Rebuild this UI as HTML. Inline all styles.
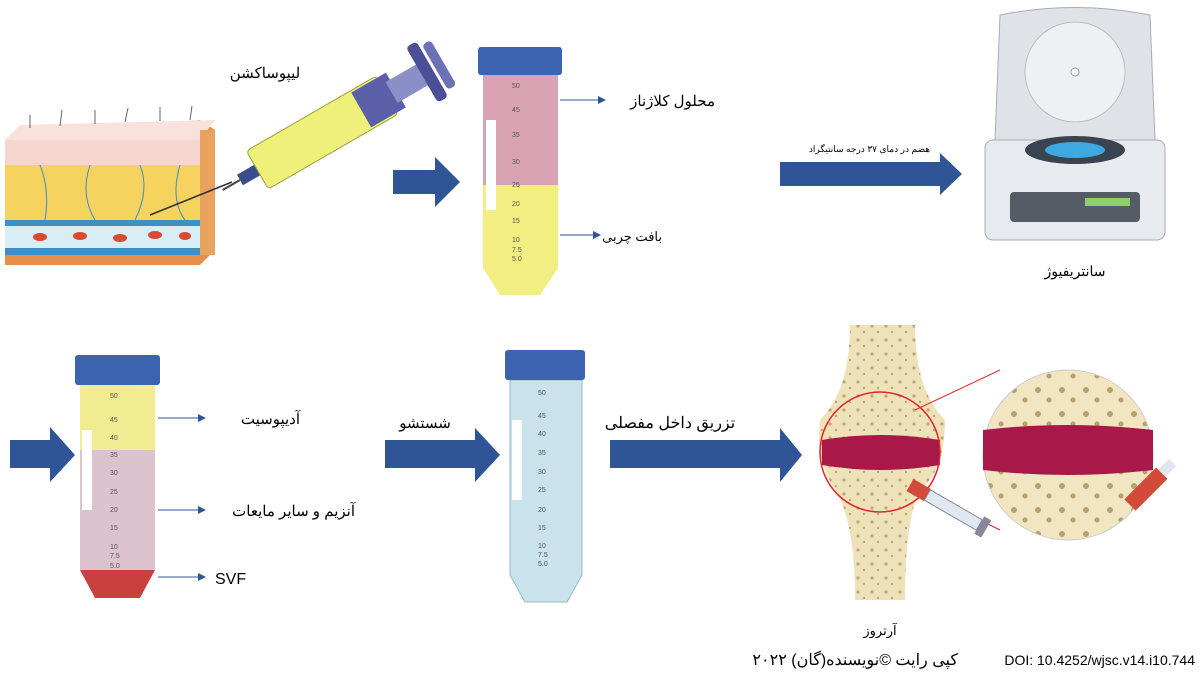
<!DOCTYPE html>
<html><head><meta charset="utf-8"><style>
body{margin:0;background:#fff;}
svg text{font-family:"Liberation Sans","Noto Sans CJK SC",sans-serif;}
</style></head><body>
<svg width="1200" height="672" viewBox="0 0 1200 672" xmlns="http://www.w3.org/2000/svg">
<defs>
<pattern id="bone" width="14" height="14" patternUnits="userSpaceOnUse">
<rect width="14" height="14" fill="#efe2b8"/><circle cx="4" cy="4" r="1.6" fill="#b9a77a"/><circle cx="10" cy="10" r="1.2" fill="#b9a77a"/></pattern>
<pattern id="bone2" width="24" height="24" patternUnits="userSpaceOnUse">
<rect width="24" height="24" fill="#f2e6c2"/><circle cx="6" cy="6" r="3" fill="#b79f6e"/><circle cx="17" cy="16" r="2.5" fill="#b79f6e"/></pattern>
<marker id="ah" markerWidth="8" markerHeight="8" refX="7" refY="4" orient="auto"><path d="M0,0 L8,4 L0,8Z" fill="#2f5597"/></marker>
</defs>
<!-- skin block -->
<polygon points="5,140 200,120 215,130 215,250 200,265 5,265" fill="#e58f4a"/>
<rect x="5" y="140" width="195" height="25" fill="#f6d5cf"/>
<polygon points="5,140 20,125 215,120 200,140" fill="#f9e2dc"/>
<rect x="5" y="165" width="195" height="55" fill="#f6d25e"/>
<rect x="5" y="220" width="195" height="35" fill="#3d8fc9"/>
<rect x="5" y="226" width="195" height="22" fill="#d8eef6"/>
<g stroke="#3d8fc9" fill="none" stroke-width="1"><path d="M40 165 Q50 190 45 220"/><path d="M90 165 Q80 195 95 220"/><path d="M140 165 Q150 190 135 220"/><path d="M180 165 Q170 200 185 220"/></g>
<g stroke="#666" stroke-width="1"><line x1="30" y1="128" x2="30" y2="115"/><line x1="60" y1="126" x2="62" y2="110"/><line x1="95" y1="124" x2="95" y2="110"/><line x1="125" y1="122" x2="128" y2="108"/><line x1="160" y1="121" x2="160" y2="107"/><line x1="190" y1="120" x2="192" y2="106"/></g>
<g fill="#d84a32"><ellipse cx="40" cy="237" rx="7" ry="4"/><ellipse cx="80" cy="236" rx="7" ry="4"/><ellipse cx="120" cy="238" rx="7" ry="4"/><ellipse cx="155" cy="235" rx="7" ry="4"/><ellipse cx="185" cy="236" rx="6" ry="4"/></g>
<rect x="200" y="130" width="15" height="125" fill="#e9a35f"/>
<line x1="150" y1="215" x2="232" y2="182" stroke="#333" stroke-width="1.5"/>
<!-- syringe -->
<g transform="translate(240,180) rotate(-30)">
<line x1="-20" y1="0" x2="0" y2="0" stroke="#444" stroke-width="2"/>
<rect x="0" y="-6" width="20" height="12" fill="#3a4e8c"/>
<rect x="20" y="-22" width="150" height="44" rx="4" fill="#eef07a" stroke="#9aa040"/>
<rect x="140" y="-20" width="40" height="40" fill="#5b5fa8"/>
<rect x="175" y="-12" width="40" height="24" fill="#8b8fc8"/>
<rect x="210" y="-32" width="12" height="64" rx="4" fill="#4b4f98"/>
<rect x="225" y="-26" width="10" height="52" rx="4" fill="#6d71b8"/>
</g>
<text x="265" y="78" font-size="15" text-anchor="middle">لیپوساکشن</text>
<!-- tube 1 -->
<rect x="483" y="75" width="75" height="110" fill="#d9a3b3"/>
<path d="M483 185 H558 V268 L540 295 H500 L483 268Z" fill="#f2ee82"/>
<rect x="478" y="47" width="84" height="28" rx="3" fill="#3b63b0"/>
<rect x="486" y="120" width="10" height="90" fill="#fff"/>
<g font-size="7" fill="#555"><text x="512" y="88">50</text><text x="512" y="112">45</text><text x="512" y="137">35</text><text x="512" y="164">30</text><text x="512" y="187">25</text><text x="512" y="206">20</text><text x="512" y="223">15</text><text x="512" y="242">10</text><text x="512" y="252">7.5</text><text x="512" y="261">5.0</text></g>
<line x1="560" y1="100" x2="605" y2="100" stroke="#2f5597" marker-end="url(#ah)"/><text x="715" y="106" font-size="15" text-anchor="end">محلول کلاژناز</text>
<line x1="560" y1="235" x2="600" y2="235" stroke="#2f5597" marker-end="url(#ah)"/><text x="662" y="241" font-size="13" text-anchor="end">بافت چربی</text>
<!-- arrows -->
<g fill="#2f5597">
<polygon points="393,170 435,170 435,157 460,182 435,207 435,194 393,194"/>
<polygon points="780,162 940,162 940,153 962,174 940,195 940,186 780,186"/>
<polygon points="10,440 50,440 50,427 75,455 50,482 50,468 10,468"/>
<polygon points="385,440 475,440 475,428 500,455 475,482 475,468 385,468"/>
<polygon points="610,440 780,440 780,428 802,455 780,482 780,468 610,468"/>
</g>
<text x="930" y="152" font-size="9" text-anchor="end">هضم در دمای ۳۷ درجه سانتیگراد</text>
<!-- centrifuge -->
<path d="M1000 15 Q1075 0 1150 15 L1155 140 H995Z" fill="#dfe3e8" stroke="#aab"/>
<circle cx="1075" cy="72" r="50" fill="#eef1f4" stroke="#b8bec6"/>
<circle cx="1075" cy="72" r="4" fill="#fff" stroke="#999"/>
<rect x="985" y="140" width="180" height="100" rx="8" fill="#e7eaee" stroke="#aab"/>
<ellipse cx="1075" cy="150" rx="50" ry="14" fill="#3a4450"/>
<ellipse cx="1075" cy="150" rx="30" ry="8" fill="#3ea9e0"/>
<rect x="1010" y="192" width="130" height="30" rx="4" fill="#555c66"/>
<rect x="1085" y="198" width="45" height="8" fill="#8fd06a"/>
<text x="1075" y="276" font-size="14" text-anchor="middle">سانتریفیوژ</text>
<!-- tube 2 -->
<rect x="80" y="385" width="75" height="65" fill="#f1ec91"/>
<rect x="80" y="450" width="75" height="120" fill="#dcc3cd"/>
<path d="M80 570 H155 L140 598 H95Z" fill="#c9403f"/>
<rect x="75" y="355" width="85" height="30" rx="3" fill="#3b63b0"/>
<rect x="82" y="430" width="10" height="80" fill="#fff"/>
<g font-size="7" fill="#555"><text x="110" y="398">50</text><text x="110" y="422">45</text><text x="110" y="440">40</text><text x="110" y="457">35</text><text x="110" y="475">30</text><text x="110" y="494">25</text><text x="110" y="512">20</text><text x="110" y="530">15</text><text x="110" y="549">10</text><text x="110" y="558">7.5</text><text x="110" y="568">5.0</text></g>
<line x1="158" y1="418" x2="205" y2="418" stroke="#2f5597" marker-end="url(#ah)"/><text x="300" y="424" font-size="15" text-anchor="end">آدیپوسیت</text>
<line x1="158" y1="510" x2="205" y2="510" stroke="#2f5597" marker-end="url(#ah)"/><text x="355" y="516" font-size="15" text-anchor="end">آنزیم و سایر مایعات</text>
<line x1="158" y1="577" x2="205" y2="577" stroke="#2f5597" marker-end="url(#ah)"/><text x="215" y="584" font-size="16">SVF</text>
<!-- tube 3 -->
<path d="M510 380 H582 V575 L567 602 H525 L510 575Z" fill="#c9e2ec" stroke="#9bb"/>
<rect x="505" y="350" width="80" height="30" rx="3" fill="#3b63b0"/>
<rect x="512" y="420" width="10" height="80" fill="#fff"/>
<g font-size="7" fill="#555"><text x="538" y="395">50</text><text x="538" y="418">45</text><text x="538" y="436">40</text><text x="538" y="455">35</text><text x="538" y="474">30</text><text x="538" y="492">25</text><text x="538" y="512">20</text><text x="538" y="530">15</text><text x="538" y="548">10</text><text x="538" y="557">7.5</text><text x="538" y="566">5.0</text></g>
<text x="425" y="428" font-size="15" text-anchor="middle">شستشو</text>
<text x="670" y="428" font-size="16" text-anchor="middle">تزریق داخل مفصلی</text>
<!-- joint -->
<path d="M850 325 H915 Q915 390 945 420 Q945 470 920 490 Q905 520 905 600 H855 Q855 520 835 490 Q815 460 820 420 Q850 390 850 325Z" fill="url(#bone)"/>
<path d="M822 440 Q880 430 940 440 L940 465 Q880 475 822 465Z" fill="#a8194a"/>
<circle cx="880" cy="452" r="60" fill="none" stroke="#e0252a" stroke-width="1.5"/>
<line x1="915" y1="410" x2="1000" y2="370" stroke="#e0252a"/>
<line x1="920" y1="490" x2="1000" y2="530" stroke="#e0252a"/>
<circle cx="1068" cy="455" r="85" fill="url(#bone2)" stroke="#ccc"/>
<path d="M983 430 Q1068 420 1153 430 L1153 470 Q1068 480 983 470Z" fill="#a8194a"/>
<g transform="translate(910,485) rotate(30)"><rect x="0" y="-7" width="20" height="14" fill="#d24a3a"/><rect x="20" y="-6" width="60" height="12" fill="#dfe7f0" stroke="#889"/><rect x="80" y="-10" width="8" height="20" fill="#889"/></g>
<g transform="translate(1130,505) rotate(-45)"><rect x="0" y="-8" width="45" height="16" fill="#d24a3a"/><rect x="45" y="-5" width="15" height="10" fill="#dfe7f0"/></g>
<text x="880" y="635" font-size="13" text-anchor="middle">آرتروز</text>
<text x="1195" y="665" font-size="14" text-anchor="end">DOI: 10.4252/wjsc.v14.i10.744</text>
<text x="958" y="665" font-size="16" text-anchor="end">کپی رایت ©نویسنده(گان) ۲۰۲۲</text>
</svg>
</body></html>
